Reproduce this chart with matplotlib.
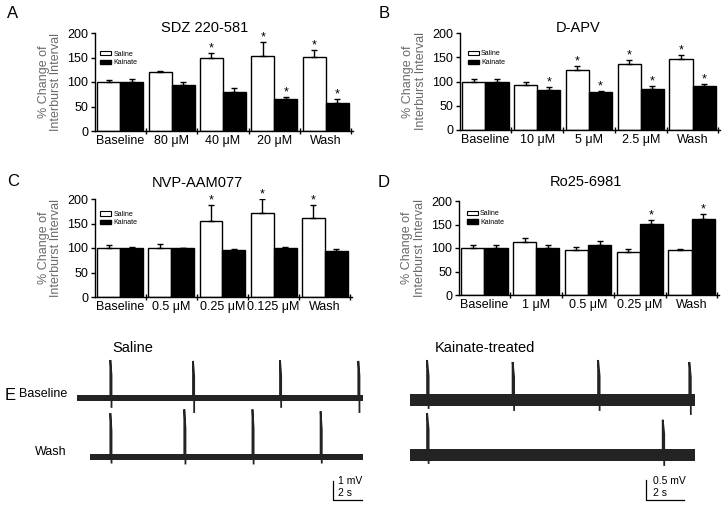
import matplotlib
matplotlib.use('Agg')
import matplotlib.pyplot as plt
from matplotlib.patches import Patch
import numpy as np

plt.rcParams['font.family'] = ['Liberation Sans', 'DejaVu Sans']

# bar chart data (% change of interburst interval)
groups_a = ['Baseline', '80 \u03bcM', '40 \u03bcM', '20 \u03bcM', 'Wash']
saline_a = [100, 121, 149, 154, 152]
saline_a_err = [4, 2, 10, 27, 14]
kainate_a = [100, 93, 80, 65, 58]
kainate_a_err = [6, 7, 8, 4, 7]
stars_a_saline = [2, 3, 4]
stars_a_kainate = [3, 4]

groups_b = ['Baseline', '10 \u03bcM', '5 \u03bcM', '2.5 \u03bcM', 'Wash']
saline_b = [100, 93, 124, 136, 146]
saline_b_err = [6, 5, 7, 9, 9]
kainate_b = [100, 83, 78, 85, 90]
kainate_b_err = [5, 5, 3, 5, 5]
stars_b_saline = [2, 3, 4]
stars_b_kainate = [1, 2, 3, 4]

groups_c = ['Baseline', '0.5 \u03bcM', '0.25 \u03bcM', '0.125 \u03bcM', 'Wash']
saline_c = [100, 101, 156, 171, 161]
saline_c_err = [7, 7, 32, 28, 27]
kainate_c = [101, 99, 96, 101, 94]
kainate_c_err = [2, 2, 2, 2, 4]
stars_c_saline = [2, 3, 4]
stars_c_kainate = []

groups_d = ['Baseline', '1 \u03bcM', '0.5 \u03bcM', '0.25 \u03bcM', 'Wash']
saline_d = [100, 112, 95, 91, 95]
saline_d_err = [7, 10, 8, 7, 3]
kainate_d = [101, 101, 107, 152, 161]
kainate_d_err = [6, 5, 7, 8, 11]
stars_d_saline = []
stars_d_kainate = [3, 4]

# example recordings: spike times (s), peak and dip (mV re. baseline)
sal_base_span = [0.0, 19.7]
sal_base_spikes = [2.3, 8.0, 14.0, 19.4]
sal_base_peaks = [2.0, 1.95, 2.0, 1.95]
sal_base_dips = [0.47, 0.74, 0.47, 0.74]
sal_wash_span = [0.9, 19.7]
sal_wash_spikes = [2.3, 7.4, 12.1, 16.8]
sal_wash_peaks = [2.3, 2.5, 2.5, 2.4]
sal_wash_dips = [0.3, 0.35, 0.35, 0.3]
sal_noise = 0.16

ka_base_span = [0.0, 15.0]
ka_base_spikes = [0.9, 5.4, 9.9, 14.7]
ka_base_peaks = [1.0, 0.95, 1.0, 0.95]
ka_base_dips = [0.2, 0.25, 0.25, 0.35]
ka_wash_span = [0.0, 15.0]
ka_wash_spikes = [0.9, 13.3]
ka_wash_peaks = [1.05, 0.88]
ka_wash_dips = [0.2, 0.25]
ka_noise = 0.15

W, H = 724, 509
fig = plt.figure(figsize=(W / 100, H / 100), dpi=100)


def px_axes(l, t, r, b):
    return fig.add_axes([l / W, 1 - b / H, (r - l) / W, (b - t) / H])


def bar_panel(ax, title, title_xy, labels, sal, sal_err, kai, kai_err, st_s, st_k, leg_xy):
    x = np.arange(len(labels))
    w = 0.447
    ax.bar(x - w / 2, sal, w, color='white', edgecolor='black', linewidth=1,
           yerr=[np.zeros(len(sal)), sal_err], capsize=2.2,
           error_kw={'elinewidth': 1, 'capthick': 1}, label='Saline', zorder=2)
    ax.bar(x + w / 2, kai, w, color='black', edgecolor='black', linewidth=1,
           yerr=[np.zeros(len(kai)), kai_err], capsize=2.2,
           error_kw={'elinewidth': 1, 'capthick': 1}, label='Kainate', zorder=2)
    for i in st_s:
        ax.annotate('*', xy=(x[i] - w / 2, sal[i] + sal_err[i]), xytext=(0, -1),
                    textcoords='offset points', ha='center', va='bottom', fontsize=9)
    for i in st_k:
        ax.annotate('*', xy=(x[i] + w / 2, kai[i] + kai_err[i]), xytext=(0, -1),
                    textcoords='offset points', ha='center', va='bottom', fontsize=9)
    ax.set_xlim(-0.49, 4.53)
    ax.set_ylim(0, 200)
    ax.set_yticks([0, 50, 100, 150, 200])
    ax.set_xticks(x)
    ax.set_xticklabels(labels, fontsize=9)
    ax.set_xticks(list(x + 0.5), minor=True)
    ax.tick_params(axis='x', which='major', length=0, pad=3)
    ax.tick_params(axis='x', which='minor', length=4, direction='inout', width=1)
    ax.tick_params(axis='y', length=3, width=1, labelsize=9, pad=2)
    for s in ['top', 'right']:
        ax.spines[s].set_visible(False)
    for s in ['left', 'bottom']:
        ax.spines[s].set_linewidth(1)
    fig.text(title_xy[0] / W, 1 - title_xy[1] / H, title, fontsize=10.5,
             ha='center', va='center')
    ax.text(-0.175, 0.5, '% Change of\nInterburst Interval', transform=ax.transAxes,
            rotation=90, ha='center', va='center', fontsize=9, color='#6a6a6a',
            linespacing=1.05)
    handles = [Patch(facecolor='white', edgecolor='black', linewidth=0.8, label='Saline'),
               Patch(facecolor='black', edgecolor='black', label='Kainate')]
    ax.legend(handles=handles, loc='upper left', bbox_to_anchor=leg_xy, frameon=False,
              fontsize=5, handlelength=1.6, handleheight=0.6, handletextpad=0.3,
              labelspacing=0.25, borderpad=0, borderaxespad=0)


ax_a = px_axes(95, 33, 353, 131)
bar_panel(ax_a, 'SDZ 220-581', (205, 28), groups_a, saline_a, saline_a_err,
          kainate_a, kainate_a_err, stars_a_saline, stars_a_kainate, (0.02, 0.82))
ax_b = px_axes(460, 33, 720, 130)
bar_panel(ax_b, 'D-APV', (578, 28), groups_b, saline_b, saline_b_err,
          kainate_b, kainate_b_err, stars_b_saline, stars_b_kainate, (0.03, 0.82))
ax_c = px_axes(95, 199, 352, 297)
bar_panel(ax_c, 'NVP-AAM077', (197, 183), groups_c, saline_c, saline_c_err,
          kainate_c, kainate_c_err, stars_c_saline, stars_c_kainate, (0.02, 0.88))
ax_d = px_axes(459, 201, 719, 295)
bar_panel(ax_d, 'Ro25-6981', (586, 182), groups_d, saline_d, saline_d_err,
          kainate_d, kainate_d_err, stars_d_saline, stars_d_kainate, (0.03, 0.90))


def draw_trace(ax, span, spikes, peaks, dips, noise, offset, color='#232323'):
    ax.fill_between(span, [offset - noise] * 2, [offset + noise] * 2, color=color,
                    linewidth=0)
    for t, p, d in zip(spikes, peaks, dips):
        ax.plot([t, t, t + 0.08, t + 0.08], [offset, offset + p, offset + p * 0.6, offset - d],
                color=color, linewidth=1.3, solid_joinstyle='miter')


# saline traces: 14.5 px per s, 19 px per mV
ax_s = px_axes(77, 350, 370, 505)
ax_s.set_xlim(0, 293 / 14.5)
ax_s.set_ylim(-107 / 19, 48 / 19)
ax_s.axis('off')
draw_trace(ax_s, sal_base_span, sal_base_spikes, sal_base_peaks, sal_base_dips, sal_noise, 0)
draw_trace(ax_s, sal_wash_span, sal_wash_spikes, sal_wash_peaks, sal_wash_dips, sal_noise, -3.1)
t0, v0 = 17.66, -5.37
ax_s.plot([t0, t0, t0 + 2], [v0 + 1, v0, v0], color='black', linewidth=0.9)
ax_s.text(t0 + 0.35, -4.39, '1 mV', fontsize=7.5, va='center', ha='left')
ax_s.text(t0 + 0.35, -5.0, '2 s', fontsize=7.5, va='center', ha='left')

# kainate traces: 19 px per s, 40 px per mV
ax_k = px_axes(410, 350, 700, 505)
ax_k.set_xlim(0, 290 / 19)
ax_k.set_ylim(-105 / 40, 50 / 40)
ax_k.axis('off')
draw_trace(ax_k, ka_base_span, ka_base_spikes, ka_base_peaks, ka_base_dips, ka_noise, 0)
draw_trace(ax_k, ka_wash_span, ka_wash_spikes, ka_wash_peaks, ka_wash_dips, ka_noise, -1.375)
t0, v0 = 12.42, -2.5
ax_k.plot([t0, t0, t0 + 2], [v0 + 0.5, v0, v0], color='black', linewidth=0.9)
ax_k.text(t0 + 0.37, -2.03, '0.5 mV', fontsize=7.5, va='center', ha='left')
ax_k.text(t0 + 0.37, -2.33, '2 s', fontsize=7.5, va='center', ha='left')

# labels for panel E
fig.text(133 / W, 1 - 348 / H, 'Saline', fontsize=10.5, ha='center', va='center')
fig.text(485 / W, 1 - 348 / H, 'Kainate-treated', fontsize=10.5, ha='center', va='center')
fig.text(67 / W, 1 - 394 / H, 'Baseline', fontsize=9, ha='right', va='center')
fig.text(67 / W, 1 - 452 / H, 'Wash', fontsize=9, ha='right', va='center')

for letter, (x, y) in zip('ABCDE', [(13, 14), (384, 14), (13, 181), (384, 182), (10, 396)]):
    fig.text(x / W, 1 - y / H, letter, fontsize=12, ha='center', va='center')

fig.savefig('out.png', dpi=100)
